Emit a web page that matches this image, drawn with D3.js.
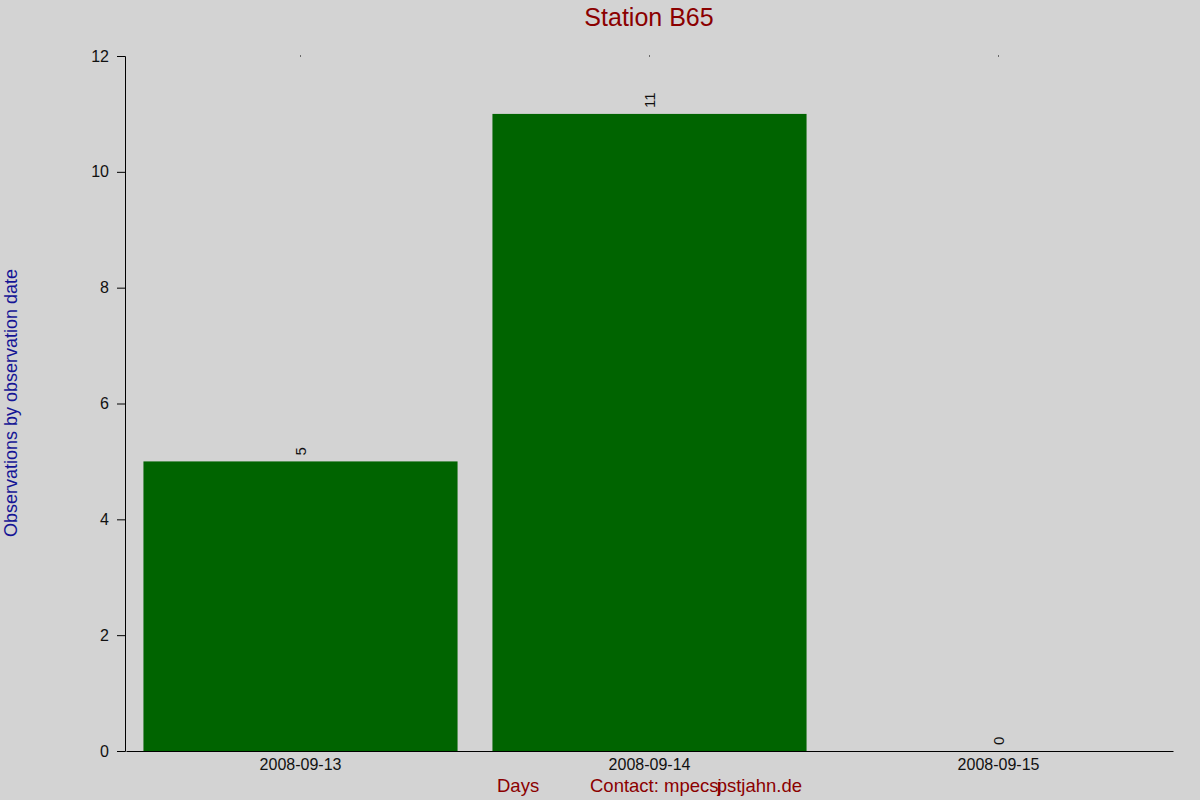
<!DOCTYPE html>
<meta charset="utf-8">
<script src="https://d3js.org/d3.v7.min.js"></script>
<style>
    body { margin: 0; background: #d3d3d3; }
    text { font-family: "Liberation Sans", Arial, sans-serif; }
</style>
<body>
<div id="chart"></div>
<script>
    // data
    var days = ["2008-09-13", "2008-09-14", "2008-09-15"];
    var counts = [5, 11, 0];
    var yTicks = [0, 2, 4, 6, 8, 10, 12];

    var W = 1200, H = 800;
    var margin = {top: 56, right: 28, bottom: 49, left: 125};
    var width = W - margin.left - margin.right,
        height = H - margin.top - margin.bottom;

    var svg = d3.select("#chart").append("svg")
        .attr("width", W)
        .attr("height", H)
        .style("background", "#d3d3d3");

    var g = svg.append("g")
        .attr("transform", "translate(" + margin.left + "," + margin.top + ")");

    var x = d3.scaleBand()
        .domain(days)
        .range([1, width + 1])
        .paddingInner(0.1)
        .paddingOuter(0.05);

    var y = d3.scaleLinear()
        .domain([0, 12])
        .range([height, 0]);

    // bars
    g.selectAll("rect.bar")
        .data(days)
        .enter().append("rect")
        .attr("class", "bar")
        .attr("x", function(d) { return x(d); })
        .attr("width", x.bandwidth())
        .attr("y", function(d, i) { return y(counts[i]); })
        .attr("height", function(d, i) { return height - y(counts[i]); })
        .attr("fill", "#006400");

    // value labels, rotated
    g.selectAll("text.val")
        .data(days)
        .enter().append("text")
        .attr("class", "val")
        .attr("transform", function(d, i) {
            return "translate(" + (x(d) + x.bandwidth() / 2 + 5) + "," + (y(counts[i]) - 6) + ") rotate(-90)";
        })
        .attr("font-size", 15)
        .attr("fill", "#111")
        .text(function(d, i) { return counts[i]; });

    // y axis
    var yAxis = g.append("g")
        .call(d3.axisLeft(y).tickValues(yTicks).tickSize(8).tickPadding(8).tickSizeOuter(8));
    yAxis.selectAll("text").attr("font-size", 16).attr("fill", "#111").style("font-family", "Liberation Sans, Arial, sans-serif");
    yAxis.selectAll("line, path").attr("stroke", "#000");

    // x axis
    var xAxis = g.append("g")
        .attr("transform", "translate(0," + height + ")")
        .call(d3.axisBottom(x).tickSize(0).tickSizeOuter(0).tickPadding(8));
    xAxis.selectAll("text").attr("font-size", 16).attr("fill", "#111").style("font-family", "Liberation Sans, Arial, sans-serif");
    xAxis.select("path").attr("stroke", "#000");

    // tiny marks at top of the plot
    g.selectAll("rect.dot")
        .data(days)
        .enter().append("rect")
        .attr("class", "dot")
        .attr("x", function(d) { return x(d) + x.bandwidth() / 2 - 0.5; })
        .attr("y", -0.5)
        .attr("width", 1)
        .attr("height", 1)
        .attr("fill", "#000");

    // title
    svg.append("text")
        .attr("x", 649)
        .attr("y", 26)
        .attr("text-anchor", "middle")
        .attr("font-size", 25)
        .attr("fill", "#8b0000")
        .text("Station B65");

    // y label
    svg.append("text")
        .attr("transform", "translate(17," + 403 + ") rotate(-90)")
        .attr("text-anchor", "middle")
        .attr("font-size", 18)
        .attr("fill", "#151595")
        .text("Observations by observation date");

    // x label and contact
    svg.append("text")
        .attr("x", 497)
        .attr("y", 792)
        .attr("font-size", 18.5)
        .attr("fill", "#8b0000")
        .text("Days");

    var contact = svg.append("text")
        .attr("x", 590)
        .attr("y", 792)
        .attr("font-size", 18.5)
        .attr("fill", "#8b0000");
    contact.append("tspan").text("Contact: mpecs");
    contact.append("tspan").attr("dx", -1).text("j");
    contact.append("tspan").attr("dx", -5).text("pstjahn.de");
</script>
</body>
